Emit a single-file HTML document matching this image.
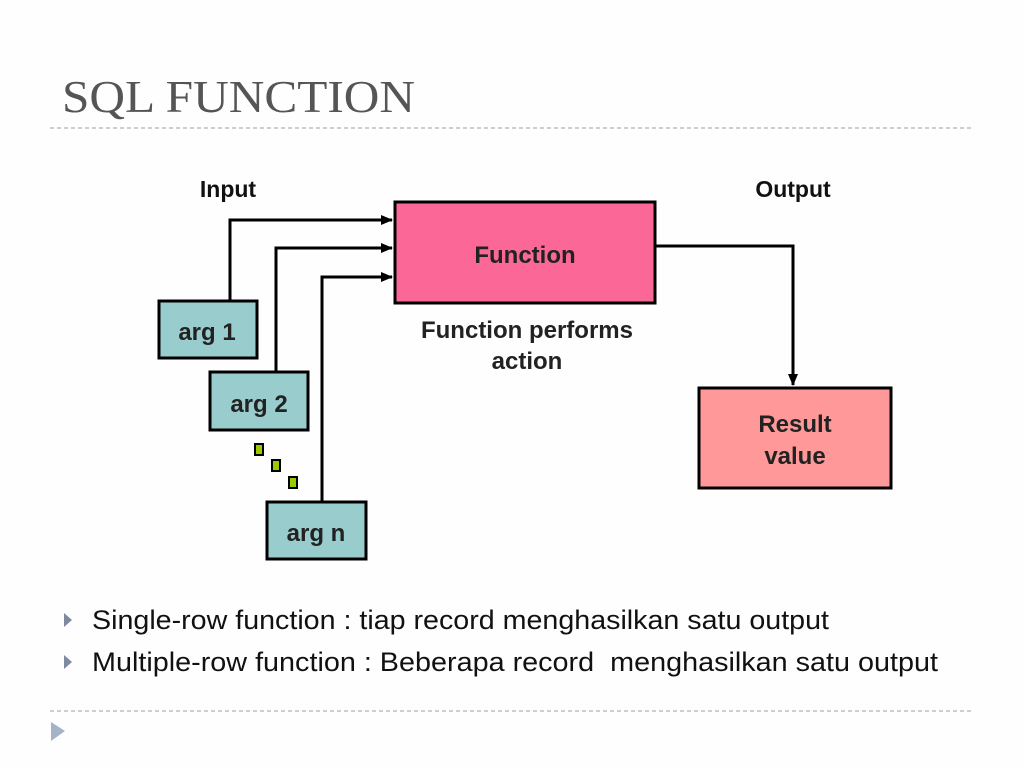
<!DOCTYPE html>
<html><head><meta charset="utf-8"><style>
html,body{margin:0;padding:0;background:#fff;}
svg{display:block}
</style></head><body>
<svg width="1024" height="768" viewBox="0 0 1024 768" xmlns="http://www.w3.org/2000/svg">
<defs><marker id="a" markerWidth="12" markerHeight="10" refX="11" refY="5" orient="auto" markerUnits="userSpaceOnUse"><path d="M0,0 L12,5 L0,10 z" fill="#000"/></marker></defs>
<rect width="1024" height="768" fill="#fefefe"/>
<text x="62" y="112" font-family="Liberation Serif, serif" font-size="46" fill="#555" textLength="353" lengthAdjust="spacingAndGlyphs">SQL FUNCTION</text>
<line x1="50" y1="128" x2="972" y2="128" stroke="#b5c0c0" stroke-width="1.5" stroke-dasharray="4,3"/>
<g font-family="Liberation Sans, sans-serif" font-weight="bold" fill="#111" text-anchor="middle">
<text x="228" y="197" font-size="23">Input</text>
<text x="793" y="197" font-size="23">Output</text>
</g>
<g stroke="#000" stroke-width="3" fill="none">
<polyline points="230,300 230,220 392,220" marker-end="url(#a)"/>
<polyline points="276,371 276,248 392,248" marker-end="url(#a)"/>
<polyline points="322,501 322,277 392,277" marker-end="url(#a)"/>
<polyline points="656,246 793,246 793,385" marker-end="url(#a)"/>
</g>
<rect x="395" y="202" width="260" height="101" fill="#fb6898" stroke="#000" stroke-width="3"/>
<rect x="159" y="301" width="98" height="57" fill="#99cccc" stroke="#000" stroke-width="3"/>
<rect x="210" y="372" width="98" height="58" fill="#99cccc" stroke="#000" stroke-width="3"/>
<rect x="267" y="502" width="99" height="57" fill="#99cccc" stroke="#000" stroke-width="3"/>
<rect x="699" y="388" width="192" height="100" fill="#ff9999" stroke="#000" stroke-width="3"/>
<g fill="#99cc00" stroke="#000" stroke-width="2">
<rect x="255" y="444" width="8" height="11"/>
<rect x="272" y="460" width="8" height="11"/>
<rect x="289" y="477" width="8" height="11"/>
</g>
<g font-family="Liberation Sans, sans-serif" font-weight="bold" fill="#222" text-anchor="middle" font-size="24">
<text x="525" y="263">Function</text>
<text x="527" y="338">Function performs</text>
<text x="527" y="369">action</text>
<text x="207" y="340">arg 1</text>
<text x="259" y="412">arg 2</text>
<text x="316" y="541">arg n</text>
<text x="795" y="432">Result</text>
<text x="795" y="464">value</text>
</g>
<g fill="#7f8aa0">
<path d="M64,613 L72,620 L64,627 z"/>
<path d="M64,655 L72,662 L64,669 z"/>
</g>
<g font-family="Liberation Sans, sans-serif" font-size="27" fill="#111">
<text x="92" y="629" textLength="737" lengthAdjust="spacingAndGlyphs">Single-row function : tiap record menghasilkan satu output</text>
<text x="92" y="671" textLength="846" lengthAdjust="spacingAndGlyphs" xml:space="preserve">Multiple-row function : Beberapa record  menghasilkan satu output</text>
</g>
<line x1="50" y1="711" x2="972" y2="711" stroke="#b5c0c0" stroke-width="1.5" stroke-dasharray="4,3"/>
<path d="M51,722 L65,731 L51,741 z" fill="#a5b3c8"/>
</svg>
</body></html>
